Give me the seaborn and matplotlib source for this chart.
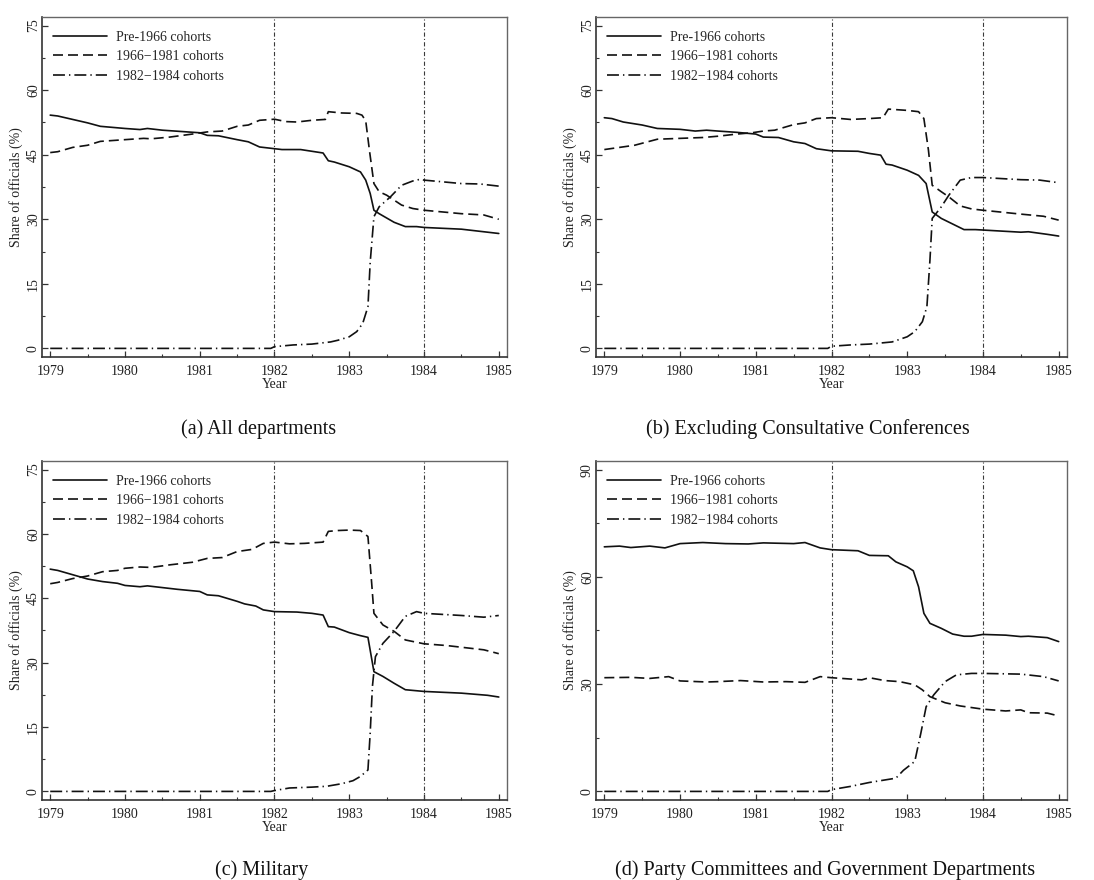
import matplotlib
matplotlib.use("Agg")
import matplotlib.pyplot as plt
from matplotlib.ticker import MultipleLocator
import numpy as np
import pandas as pd
import seaborn as sns

# ---------------------------------------------------------------------------
# Series: share of officials (%) by entry cohort, 1979-1985
# ---------------------------------------------------------------------------
cohorts = ["Pre-1966 cohorts", "1966\u22121981 cohorts", "1982\u22121984 cohorts"]

# (a) All departments
a_pre_x = [1979.0, 1979.1, 1979.3, 1979.5, 1979.67, 1980.0, 1980.2, 1980.3, 1980.5, 1980.75,
           1981.0, 1981.1, 1981.25, 1981.5, 1981.65, 1981.8, 1982.0, 1982.1, 1982.35, 1982.5,
           1982.65, 1982.72, 1982.8, 1983.0, 1983.15, 1983.22, 1983.28, 1983.33, 1983.4, 1983.6,
           1983.75, 1983.9, 1984.0, 1984.5, 1984.75, 1985.0]
a_pre_y = [54.2, 54.0, 53.2, 52.4, 51.6, 51.1, 50.85, 51.1, 50.7, 50.4,
           50.1, 49.5, 49.4, 48.5, 48.0, 46.8, 46.4, 46.2, 46.2, 45.8,
           45.4, 43.6, 43.3, 42.2, 41.0, 39.1, 36.0, 32.1, 31.3, 29.3,
           28.3, 28.3, 28.1, 27.7, 27.2, 26.7]
a_mid_x = [1979.0, 1979.1, 1979.3, 1979.5, 1979.67, 1980.0, 1980.25, 1980.35, 1980.6, 1980.9,
           1981.1, 1981.3, 1981.5, 1981.65, 1981.8, 1982.0, 1982.15, 1982.3, 1982.5, 1982.68,
           1982.72, 1982.9, 1983.1, 1983.17, 1983.22, 1983.27, 1983.33, 1983.4, 1983.5, 1983.7,
           1983.85, 1984.0, 1984.5, 1984.8, 1985.0]
a_mid_y = [45.5, 45.7, 46.7, 47.2, 48.1, 48.5, 48.8, 48.7, 49.1, 49.8,
           50.3, 50.5, 51.6, 51.9, 53.0, 53.25, 52.7, 52.6, 53.0, 53.2,
           55.0, 54.7, 54.6, 54.2, 52.9, 46.0, 38.3, 36.4, 35.6, 33.3,
           32.5, 32.1, 31.3, 31.0, 30.0]
a_new_x = [1979.0, 1981.95, 1982.0, 1982.25, 1982.5, 1982.75, 1982.85, 1983.0, 1983.1, 1983.18,
           1983.25, 1983.28, 1983.33, 1983.4, 1983.55, 1983.7, 1983.85, 1983.95, 1984.0, 1984.5,
           1984.75, 1985.0]
a_new_y = [0.0, 0.0, 0.4, 0.8, 1.0, 1.5, 1.9, 2.7, 3.9, 5.8,
           9.7, 20.0, 30.6, 32.9, 35.2, 37.9, 38.9, 39.3, 39.1, 38.3,
           38.2, 37.7]

# (b) Excluding Consultative Conferences
b_pre_x = [1979.0, 1979.1, 1979.25, 1979.5, 1979.7, 1980.0, 1980.2, 1980.35, 1980.5, 1980.75,
           1981.0, 1981.1, 1981.3, 1981.5, 1981.65, 1981.8, 1982.0, 1982.35, 1982.5, 1982.65,
           1982.72, 1982.8, 1983.0, 1983.15, 1983.25, 1983.33, 1983.45, 1983.6, 1983.75, 1983.9,
           1984.0, 1984.5, 1984.6, 1984.85, 1985.0]
b_pre_y = [53.6, 53.4, 52.6, 51.9, 51.1, 50.9, 50.5, 50.7, 50.5, 50.2,
           49.8, 49.1, 49.0, 48.0, 47.6, 46.4, 45.9, 45.8, 45.3, 44.9,
           42.8, 42.6, 41.4, 40.2, 38.3, 31.7, 30.2, 28.9, 27.6, 27.6,
           27.5, 27.0, 27.1, 26.5, 26.1]
b_mid_x = [1979.0, 1979.2, 1979.4, 1979.7, 1980.0, 1980.3, 1980.5, 1980.75, 1980.95, 1981.1,
           1981.25, 1981.5, 1981.65, 1981.8, 1982.0, 1982.25, 1982.5, 1982.68, 1982.75, 1983.0,
           1983.15, 1983.22, 1983.28, 1983.33, 1983.45, 1983.55, 1983.7, 1983.85, 1984.0, 1984.5,
           1984.8, 1985.0]
b_mid_y = [46.2, 46.7, 47.2, 48.6, 48.8, 49.0, 49.3, 49.8, 50.1, 50.5,
           50.7, 52.0, 52.4, 53.4, 53.6, 53.2, 53.4, 53.6, 55.6, 55.3,
           55.0, 53.4, 46.1, 37.9, 36.4, 35.2, 33.1, 32.4, 32.1, 31.2,
           30.7, 29.8]
b_new_x = [1979.0, 1981.95, 1982.0, 1982.25, 1982.5, 1982.8, 1983.0, 1983.1, 1983.2, 1983.26,
           1983.3, 1983.33, 1983.45, 1983.55, 1983.7, 1983.85, 1984.0, 1984.5, 1984.75, 1985.0]
b_new_y = [0.0, 0.0, 0.5, 0.8, 1.0, 1.5, 2.7, 3.9, 6.2, 9.7,
           20.5, 30.2, 32.9, 35.6, 39.1, 39.7, 39.7, 39.2, 39.1, 38.5]

# (c) Military
c_pre_x = [1979.0, 1979.1, 1979.3, 1979.5, 1979.7, 1979.9, 1980.0, 1980.2, 1980.3, 1980.5,
           1980.7, 1981.0, 1981.1, 1981.25, 1981.5, 1981.6, 1981.75, 1981.85, 1982.0, 1982.3,
           1982.5, 1982.65, 1982.72, 1982.8, 1983.0, 1983.15, 1983.25, 1983.33, 1983.45, 1983.6,
           1983.75, 1984.0, 1984.5, 1984.85, 1985.0]
c_pre_y = [51.8, 51.5, 50.5, 49.5, 48.9, 48.5, 48.0, 47.7, 47.9, 47.5,
           47.1, 46.6, 45.8, 45.6, 44.3, 43.7, 43.2, 42.3, 41.9, 41.8,
           41.5, 41.1, 38.4, 38.3, 37.0, 36.3, 35.9, 27.9, 26.8, 25.2,
           23.7, 23.3, 22.9, 22.4, 22.0]
c_mid_x = [1979.0, 1979.1, 1979.3, 1979.5, 1979.7, 1979.9, 1980.0, 1980.2, 1980.35, 1980.6,
           1980.9, 1981.1, 1981.3, 1981.5, 1981.7, 1981.85, 1982.0, 1982.2, 1982.4, 1982.65,
           1982.72, 1982.85, 1983.0, 1983.15, 1983.25, 1983.3, 1983.33, 1983.45, 1983.6, 1983.75,
           1984.0, 1984.3, 1984.5, 1984.8, 1985.0]
c_mid_y = [48.4, 48.7, 49.6, 50.2, 51.2, 51.5, 52.0, 52.3, 52.2, 52.8,
           53.4, 54.3, 54.5, 55.9, 56.4, 57.8, 58.1, 57.7, 57.8, 58.1,
           60.6, 60.8, 60.9, 60.8, 59.4, 48.5, 41.5, 38.8, 37.3, 35.3,
           34.4, 34.0, 33.6, 33.0, 32.1]
c_new_x = [1979.0, 1981.95, 1982.0, 1982.2, 1982.5, 1982.7, 1982.9, 1983.05, 1983.15, 1983.25,
           1983.28, 1983.31, 1983.35, 1983.45, 1983.6, 1983.75, 1983.9, 1984.0, 1984.5, 1984.8,
           1985.0]
c_new_y = [0.0, 0.0, 0.2, 0.8, 1.0, 1.2, 1.8, 2.5, 3.5, 5.0,
           13.6, 24.5, 31.4, 34.5, 37.3, 40.8, 41.9, 41.5, 41.0, 40.6,
           41.0]

# (d) Party Committees and Government Departments
d_pre_x = [1979.0, 1979.2, 1979.35, 1979.6, 1979.8, 1980.0, 1980.3, 1980.6, 1980.9, 1981.1,
           1981.5, 1981.65, 1981.85, 1982.0, 1982.35, 1982.5, 1982.75, 1982.85, 1983.0, 1983.08,
           1983.15, 1983.22, 1983.3, 1983.45, 1983.6, 1983.75, 1983.85, 1984.0, 1984.3, 1984.5,
           1984.6, 1984.85, 1985.0]
d_pre_y = [68.4, 68.6, 68.2, 68.6, 68.1, 69.3, 69.6, 69.3, 69.2, 69.5,
           69.3, 69.6, 68.1, 67.6, 67.3, 66.0, 65.9, 64.2, 62.8, 61.7,
           57.2, 49.8, 47.0, 45.6, 44.0, 43.4, 43.4, 43.9, 43.7, 43.3,
           43.4, 43.0, 41.9]
d_mid_x = [1979.0, 1979.35, 1979.6, 1979.85, 1980.0, 1980.35, 1980.5, 1980.8, 1981.1, 1981.4,
           1981.65, 1981.85, 1982.0, 1982.4, 1982.5, 1982.7, 1982.9, 1983.1, 1983.2, 1983.3,
           1983.5, 1983.7, 1984.0, 1984.3, 1984.5, 1984.6, 1984.85, 1985.0]
d_mid_y = [31.8, 31.9, 31.6, 32.1, 30.9, 30.6, 30.7, 31.0, 30.6, 30.7,
           30.5, 32.1, 31.8, 31.2, 31.8, 31.0, 30.7, 29.8, 28.4, 26.5,
           24.8, 23.9, 23.0, 22.5, 22.8, 22.0, 21.9, 21.1]
d_new_x = [1979.0, 1981.95, 1982.0, 1982.25, 1982.5, 1982.85, 1982.95, 1983.1, 1983.18, 1983.25,
           1983.35, 1983.5, 1983.65, 1983.85, 1984.0, 1984.5, 1984.8, 1985.0]
d_new_y = [0.0, 0.0, 0.5, 1.4, 2.5, 3.7, 5.9, 8.4, 16.3, 23.7,
           27.0, 30.7, 32.6, 33.0, 33.0, 32.8, 32.1, 30.9]

captions = ["(a) All departments",
            "(b) Excluding Consultative Conferences",
            "(c) Military",
            "(d) Party Committees and Government Departments"]
year_ticks = [1979, 1980, 1981, 1982, 1983, 1984, 1985]
reform_years = [1982, 1984]

panels = [
    (a_pre_x, a_pre_y, a_mid_x, a_mid_y, a_new_x, a_new_y),
    (b_pre_x, b_pre_y, b_mid_x, b_mid_y, b_new_x, b_new_y),
    (c_pre_x, c_pre_y, c_mid_x, c_mid_y, c_new_x, c_new_y),
    (d_pre_x, d_pre_y, d_mid_x, d_mid_y, d_new_x, d_new_y),
]

# ---------------------------------------------------------------------------
# Styling
# ---------------------------------------------------------------------------
sns.set_theme(style="white")
plt.rcParams["font.family"] = ["Liberation Serif", "DejaVu Serif"]
plt.rcParams["lines.scale_dashes"] = False
plt.rcParams["axes.unicode_minus"] = False

dash_styles = {
    cohorts[0]: "",
    cohorts[1]: (7.2, 3.6),
    cohorts[2]: (8.6, 2.9, 1.0, 2.9),
}

W, H = 1094, 880
fig = plt.figure(figsize=(W / 100, H / 100), dpi=100)
fig.patch.set_facecolor("white")

# axes boxes in pixels: left, top, right, bottom
boxes = [(42, 17, 507, 357), (596, 17, 1067, 357),
         (42, 461, 507, 800), (596, 461, 1067, 800)]
caption_pos = [(259, 429), (808, 429), (262, 870), (825, 870)]

for i, (box, series) in enumerate(zip(boxes, panels)):
    l, t, r, b = box
    ax = fig.add_axes([l / W, 1 - b / H, (r - l) / W, (b - t) / H])

    rows = []
    for name, xs, ys in zip(cohorts, series[0::2], series[1::2]):
        rows.append(pd.DataFrame({"Year": xs, "Share": ys, "Cohort": name}))
    df = pd.concat(rows, ignore_index=True)

    for yr in reform_years:
        ax.axvline(yr, color="#3a3a3a", lw=0.8, ls=(0, (3, 1.6, 0.8, 1.6)), zorder=1)

    sns.lineplot(data=df, x="Year", y="Share", style="Cohort", style_order=cohorts,
                 dashes=dash_styles, color="#111111", linewidth=1.2,
                 estimator=None, sort=True, ax=ax, zorder=3)

    ax.set_xlim(1978.89, 1985.11)
    ax.set_xticks(year_ticks)
    ax.xaxis.set_minor_locator(MultipleLocator(0.5))
    if i == 3:
        ax.set_ylim(-2.4, 92.4)
        ax.set_yticks([0, 30, 60, 90])
        ax.yaxis.set_minor_locator(MultipleLocator(15))
    else:
        ax.set_ylim(-2.0, 77.0)
        ax.set_yticks([0, 15, 30, 45, 60, 75])
        ax.yaxis.set_minor_locator(MultipleLocator(7.5))

    ax.tick_params(axis="both", which="major", direction="in", length=4.5, width=0.9,
                   color="#333333", labelsize=10, labelcolor="#222222")
    ax.tick_params(axis="x", which="major", pad=6)
    ax.tick_params(axis="y", which="major", pad=1.5)
    ax.tick_params(axis="both", which="minor", direction="in", length=2, width=0.8,
                   color="#333333")
    ax.tick_params(axis="x", which="both", bottom=True)
    ax.tick_params(axis="y", which="both", left=True)
    for lab in ax.get_yticklabels():
        lab.set_rotation(90)
        lab.set_va("center")

    ax.set_xlabel("Year", fontsize=10, color="#222222", labelpad=0)
    ax.set_ylabel("Share of officials (%)", fontsize=10, color="#222222", labelpad=3)

    for side in ["left", "bottom"]:
        ax.spines[side].set_color("#333333")
        ax.spines[side].set_linewidth(1.2)
    for side in ["top", "right"]:
        ax.spines[side].set_color("#666666")
        ax.spines[side].set_linewidth(1.0)

    handles, labels = ax.get_legend_handles_labels()
    ax.legend(handles, labels, loc="upper left", frameon=False, fontsize=10,
              handlelength=3.9, handletextpad=0.6, labelspacing=0.45,
              bbox_to_anchor=(0.012, 0.975), borderaxespad=0.0, borderpad=0.4)

    cx, cy = caption_pos[i]
    fig.text(cx / W, 1 - cy / H, captions[i], ha="center", va="center",
             fontsize=14.5, color="#111111")

fig.savefig("out.png", dpi=100, facecolor="white")
